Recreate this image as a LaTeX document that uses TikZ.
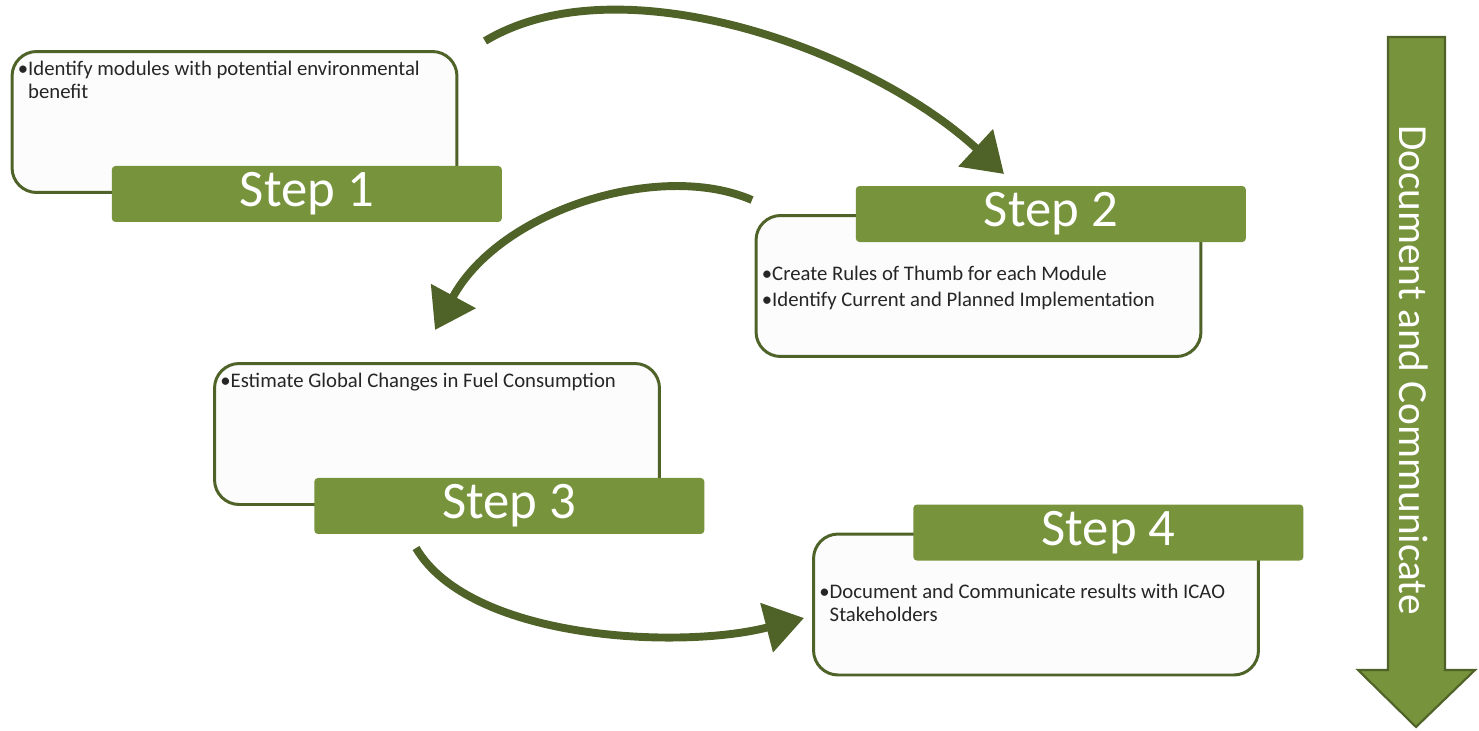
\documentclass[tikz,border=0pt]{standalone}
\usepackage{fontspec}
\setmainfont{Carlito}
\usepackage{tikz}
\usetikzlibrary{arrows.meta, positioning}
\definecolor{stepgreen}{HTML}{77933C}
\definecolor{darkgreen}{HTML}{4F6228}
\definecolor{paper}{HTML}{FCFCFC}

\tikzset{
  panel/.style={draw=darkgreen, line width=1.7pt, fill=paper, rounded corners=14pt,
    minimum width=8.9cm, minimum height=2.82cm},
  stepbar/.style={fill=stepgreen, rounded corners=2pt, minimum width=7.8cm,
    minimum height=1.12cm, text=white, font=\fontsize{30}{36}\selectfont, anchor=west},
  bullets/.style={anchor=north west, align=left, inner sep=0pt,
    font=\fontsize{11.8}{13.2}\selectfont, text=black!85},
  flow/.style={draw=darkgreen, line width=4.5pt, -{Triangle[length=22pt,width=28pt]}},
}

\begin{document}
\begin{tikzpicture}[x=0.02cm, y=-0.02cm]
  \useasboundingbox (0,0) rectangle (1479,730);

  % step 1
  \node[panel] (box1) at (234.5,122) {};
  \node[stepbar] (step1) at ([xshift=2.02cm]box1.south west) {Step 1};
  \node[bullets] (txt1) at ([xshift=0.14cm,yshift=-0.22cm]box1.north west)
    {\textbullet Identify modules with potential environmental\\ \phantom{\textbullet}benefit};

  % step 2
  \node[panel] (box2) at (978.5,286) {};
  \node[stepbar] (step2) at ([xshift=2.02cm]box2.north west) {Step 2};
  \node[bullets] (txt2) at ([xshift=0.14cm,yshift=-1.03cm]box2.north west)
    {\textbullet Create Rules of Thumb for each Module\\[1.6pt] \textbullet Identify Current and Planned Implementation};

  % step 3
  \node[panel] (box3) at (437,434) {};
  \node[stepbar] (step3) at ([xshift=2.02cm]box3.south west) {Step 3};
  \node[bullets] (txt3) at ([xshift=0.14cm,yshift=-0.22cm]box3.north west)
    {\textbullet Estimate Global Changes in Fuel Consumption};

  % step 4
  \node[panel] (box4) at (1036,604.5) {};
  \node[stepbar] (step4) at ([xshift=2.02cm]box4.north west) {Step 4};
  \node[bullets] (txt4) at ([xshift=0.14cm,yshift=-1.03cm]box4.north west)
    {\textbullet Document and Communicate results with ICAO\\ \phantom{\textbullet}Stakeholders};

  % curved arrows
  \coordinate (a1s) at (485,41);
  \coordinate (a1e) at (1004,174);
  \coordinate (a2s) at (752,200);
  \coordinate (a2e) at (435,330);
  \coordinate (a3s) at (416,548);
  \coordinate (a3e) at (804,618);
  \draw[flow] (a1s) .. controls (620,-40) and (870,50) .. (a1e);
  \draw[flow] (a2s) .. controls (660,160) and (500,210) .. (a2e);
  \draw[flow] (a3s) .. controls (470,640) and (680,650) .. (a3e);

  % document and communicate
  \draw[fill=stepgreen, draw=darkgreen, line width=1.2pt]
    (1388,37) -- (1445,37) -- (1445,670) -- (1475,670) -- (1416,727)
    -- (1358,670) -- (1388,670) -- cycle;
  \node[rotate=-90, text=white, font=\fontsize{23.5}{28}\selectfont] (dc) at (1414,370)
    {Document and Communicate};
\end{tikzpicture}
\end{document}
